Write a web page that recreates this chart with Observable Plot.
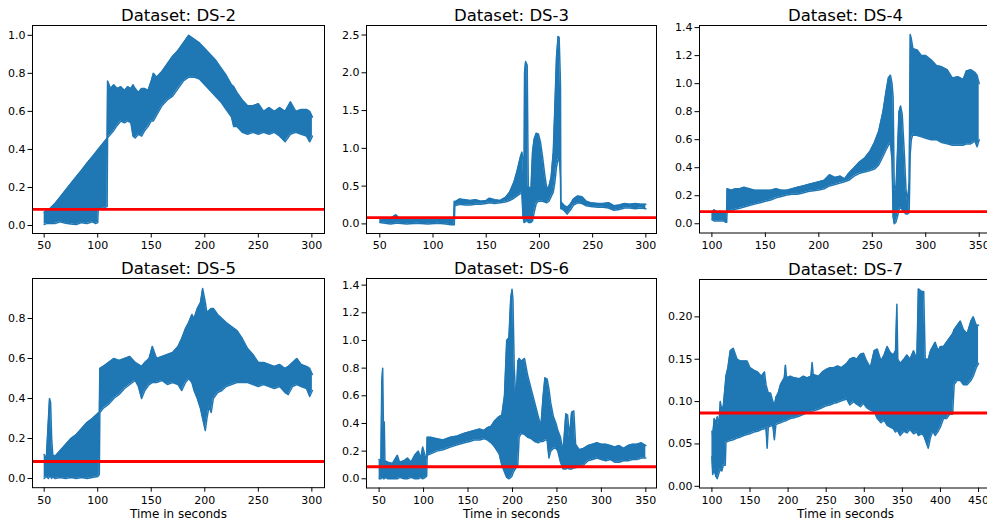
<!DOCTYPE html>
<html>
<head>
<meta charset="utf-8">
<script src="https://cdn.jsdelivr.net/npm/d3@7"></script>
<script src="https://cdn.jsdelivr.net/npm/@observablehq/plot@0.6"></script>
<style>
html, body { margin: 0; padding: 0; background: #fff; overflow: hidden; }
#root { position: relative; width: 987px; height: 525px; overflow: hidden; background: #fff; }
</style>
</head>
<body>
<div id="root"></div>
<script>
// ---------------- data ----------------
// each dataset: time (s), lower and upper envelope of the dense oscillating signal
const ds2_t  = [50,52,55.6,60,65,70,75,80,85,90,95,98,100,100.5,104,108.8,109.2,112,115,118,121.6,125,128,131,133,135,138,141,144,147,150,152,155,160,165,170,175,180,185,190,195,200,205,210,215,220,225,227,230,235,240,245,250,255,260,265,270,275,280,285,290,295,298,300.5];
const ds2_lo = [0.005,0.01,0.01,0.01,0.02,0.012,0.008,0.005,0.015,0.01,0.02,0.01,0.015,0.085,0.09,0.1,0.462,0.48,0.50,0.525,0.549,0.54,0.55,0.54,0.47,0.46,0.48,0.47,0.5,0.52,0.55,0.55,0.58,0.63,0.66,0.68,0.72,0.76,0.78,0.78,0.77,0.74,0.71,0.68,0.65,0.61,0.57,0.52,0.52,0.49,0.48,0.49,0.48,0.49,0.48,0.49,0.47,0.44,0.48,0.49,0.48,0.47,0.44,0.47];
const ds2_hi = [0.07,0.08,0.09,0.115,0.15,0.186,0.221,0.256,0.291,0.327,0.362,0.383,0.397,0.401,0.425,0.459,0.76,0.72,0.74,0.72,0.73,0.71,0.73,0.72,0.74,0.72,0.70,0.72,0.72,0.71,0.76,0.80,0.78,0.81,0.85,0.89,0.92,0.96,1.0,0.98,0.96,0.93,0.90,0.87,0.83,0.79,0.74,0.73,0.70,0.66,0.63,0.63,0.64,0.60,0.62,0.60,0.62,0.60,0.65,0.60,0.61,0.61,0.60,0.57];

const ds3_t  = [50,55,60,65,68,75,85,95,105,112,117,119.5,120,120.5,125,130,135,140,145,150,153,158,163,168,172,176,179,182,183.5,184.5,185.5,186,187,188.5,189.5,192,193.5,195,197,199,201,203,205,207,209,211,213,214.5,216,217.5,218.5,219.5,219.8,220.1,221,223,226,229,232,236,240,244,248,255,260,265,270,275,280,285,290,295,300];
const ds3_lo = [0.02,0.01,0.0,0.01,0.01,0.0,0.01,0.0,0.01,0.0,-0.01,-0.01,-0.01,0.24,0.26,0.25,0.25,0.26,0.26,0.27,0.28,0.27,0.28,0.29,0.31,0.34,0.37,0.40,0.42,0.10,0.02,0.02,0.03,0.05,0.02,0.02,0.04,0.15,0.27,0.3,0.3,0.3,0.29,0.28,0.3,0.36,0.42,0.55,0.75,0.85,0.9,0.7,0.6,0.2,0.2,0.18,0.13,0.18,0.25,0.28,0.27,0.24,0.23,0.22,0.22,0.21,0.18,0.19,0.21,0.21,0.2,0.21,0.2];
const ds3_hi = [0.07,0.08,0.07,0.12,0.08,0.08,0.07,0.08,0.07,0.08,0.07,0.08,0.3,0.29,0.33,0.32,0.31,0.32,0.30,0.31,0.34,0.32,0.31,0.35,0.42,0.55,0.70,0.88,0.95,0.85,0.5,2.0,2.15,2.1,0.5,0.45,0.95,1.12,1.2,1.19,1.08,0.88,0.65,0.46,0.5,0.62,0.95,1.55,2.2,2.48,2.47,2.0,1.8,0.3,0.28,0.25,0.22,0.26,0.33,0.37,0.36,0.30,0.28,0.27,0.27,0.28,0.24,0.25,0.27,0.26,0.27,0.26,0.26];

const ds4_t  = [100,102,105,108,111,113,113.8,114.2,118,122,126,130,135,140,145,150,155,160,165,170,175,180,185,190,195,200,205,210,215,220,224,228,233,238,243,248,252,256,260,263,265,267,268.5,269.5,270.5,272,273.5,275,276.5,278,280,281.5,283,284.5,285.5,286.5,288,292,296,300,305,310,315,320,325,330,335,338,342,346,348,350];
const ds4_lo = [0.03,0.02,0.02,0.02,0.02,0.01,0.01,0.085,0.094,0.103,0.11,0.12,0.13,0.14,0.15,0.16,0.17,0.185,0.195,0.205,0.21,0.21,0.22,0.23,0.235,0.24,0.25,0.27,0.28,0.29,0.30,0.31,0.34,0.36,0.37,0.38,0.39,0.42,0.48,0.53,0.56,0.58,0.45,0.05,0.0,0.01,0.05,0.1,0.12,0.1,0.08,0.07,0.07,0.08,0.5,0.6,0.64,0.63,0.62,0.61,0.6,0.6,0.58,0.57,0.56,0.56,0.56,0.57,0.57,0.59,0.55,0.6];
const ds4_hi = [0.08,0.1,0.08,0.09,0.07,0.08,0.09,0.25,0.24,0.25,0.25,0.26,0.25,0.24,0.24,0.24,0.24,0.25,0.24,0.24,0.25,0.26,0.27,0.28,0.29,0.3,0.31,0.35,0.33,0.34,0.32,0.36,0.40,0.44,0.47,0.52,0.58,0.66,0.80,0.95,1.04,1.06,1.0,0.9,0.28,0.22,0.5,0.8,0.84,0.78,0.5,0.25,0.15,0.3,1.35,1.32,1.25,1.24,1.20,1.2,1.17,1.13,1.12,1.1,1.04,1.05,1.03,1.09,1.1,1.08,1.06,1.0];

const ds5_t  = [50,52,54,55,56,57,58,60,65,70,75,80,85,90,95,100,101.5,102,105,110,115,120,125,130,135,138,141,144,148,151,155,160,165,170,175,178.5,182,185,188,190,193,196,198,200.5,202,204,206,208,212,216,220,225,230,235,240,245,250,255,260,265,270,275,278,282,286,290,295,298,300.5];
const ds5_lo = [0.0,0.01,0.0,0.01,0.01,0.0,0.01,0.0,0.005,0.0,0.005,0.0,0.005,0.0,0.005,0.01,0.02,0.33,0.35,0.37,0.40,0.42,0.45,0.47,0.49,0.46,0.40,0.44,0.47,0.48,0.48,0.49,0.47,0.48,0.47,0.44,0.48,0.5,0.48,0.44,0.40,0.35,0.30,0.24,0.30,0.36,0.33,0.40,0.43,0.44,0.46,0.47,0.48,0.48,0.48,0.47,0.46,0.47,0.46,0.45,0.46,0.43,0.42,0.46,0.47,0.46,0.45,0.41,0.44];
const ds5_hi = [0.12,0.1,0.3,0.40,0.38,0.2,0.12,0.11,0.14,0.17,0.2,0.22,0.25,0.28,0.30,0.325,0.33,0.55,0.56,0.58,0.6,0.59,0.6,0.61,0.58,0.57,0.56,0.58,0.6,0.66,0.6,0.61,0.62,0.63,0.66,0.70,0.75,0.78,0.82,0.8,0.85,0.88,0.95,0.88,0.83,0.84,0.85,0.85,0.82,0.8,0.78,0.76,0.74,0.70,0.65,0.62,0.58,0.58,0.57,0.56,0.57,0.55,0.56,0.58,0.60,0.57,0.56,0.55,0.52];

const ds6_t  = [50,52,53,54,55,55.8,56.5,60,65,70.5,73,78,82,86,90,94,97,99,102,103.5,104,108,115,122,130,138,146,152,157,163,168,172,176,180,185,188,191,193.5,196,198,199.5,200.5,202,204,206,207.5,210,213.5,217,221,225,229,232,234.5,236.5,239,241,243,246,249,251,254,257,260,262,264,266.5,269,271,275,280,285,290,295,300,305,310,315,320,325,330,335,340,345,350];
const ds6_lo = [0.0,0.0,0.01,0.01,0.0,0.0,0.01,0.0,0.0,0.0,0.01,0.0,0.0,0.01,0.0,0.0,0.01,0.0,0.01,0.02,0.17,0.18,0.2,0.21,0.23,0.245,0.26,0.27,0.28,0.28,0.29,0.28,0.26,0.23,0.18,0.1,0.05,0.01,0.0,0.01,0.02,0.04,0.06,0.08,0.1,0.3,0.33,0.32,0.30,0.29,0.27,0.26,0.27,0.27,0.28,0.28,0.15,0.2,0.22,0.22,0.2,0.12,0.07,0.07,0.08,0.07,0.07,0.08,0.08,0.09,0.1,0.13,0.14,0.15,0.14,0.13,0.14,0.12,0.12,0.13,0.13,0.14,0.14,0.15,0.15];
const ds6_hi = [0.14,0.12,0.7,0.8,0.3,0.41,0.13,0.12,0.11,0.17,0.12,0.13,0.15,0.12,0.17,0.2,0.15,0.23,0.16,0.15,0.3,0.3,0.29,0.28,0.3,0.31,0.33,0.34,0.35,0.36,0.35,0.37,0.38,0.42,0.45,0.46,0.6,1.0,1.02,1.3,1.37,1.3,0.8,0.55,0.85,0.87,0.85,0.87,0.75,0.65,0.55,0.45,0.38,0.6,0.73,0.72,0.65,0.55,0.45,0.40,0.35,0.3,0.2,0.47,0.46,0.3,0.48,0.49,0.25,0.21,0.22,0.24,0.25,0.26,0.25,0.25,0.24,0.23,0.24,0.22,0.24,0.25,0.25,0.26,0.24];

const ds7_t  = [100,101,103,105,107,109,111,113,115,117.5,118.4,121,124,128,133,137,142,146,150,155,160,165,169,171,172.5,174,177,180,182,184,187,190,195,196.5,198,203,208,215,220,225,230,231.5,233,240,245,250,255,260,265,270,277,281,286,290,295,299,303,308,313,317,322,326,330,334,338,341,342.8,344,347,352,356,360,364.7,369,371,375,378,380,384,387,390,393,397,400,404,408,412,416,418,422,426,430,435,440,443,447,450];
const ds7_lo = [0.035,0.014,0.02,0.012,0.009,0.015,0.02,0.018,0.025,0.025,0.052,0.053,0.054,0.055,0.057,0.058,0.060,0.061,0.062,0.064,0.065,0.067,0.068,0.069,0.045,0.07,0.071,0.072,0.055,0.073,0.074,0.075,0.077,0.077,0.078,0.08,0.081,0.083,0.085,0.087,0.088,0.089,0.089,0.091,0.093,0.095,0.096,0.098,0.099,0.101,0.103,0.096,0.1,0.097,0.094,0.098,0.093,0.09,0.088,0.08,0.075,0.078,0.072,0.07,0.068,0.064,0.066,0.065,0.06,0.065,0.063,0.067,0.062,0.064,0.06,0.062,0.06,0.055,0.045,0.058,0.065,0.06,0.065,0.07,0.08,0.08,0.085,0.085,0.12,0.125,0.125,0.12,0.12,0.125,0.13,0.14,0.145];
const ds7_hi = [0.065,0.06,0.08,0.075,0.082,0.07,0.1,0.09,0.095,0.12,0.13,0.14,0.16,0.163,0.15,0.148,0.148,0.148,0.14,0.137,0.135,0.13,0.135,0.12,0.115,0.11,0.11,0.10,0.095,0.105,0.11,0.12,0.128,0.143,0.128,0.13,0.128,0.127,0.13,0.128,0.13,0.146,0.132,0.13,0.135,0.138,0.14,0.14,0.142,0.14,0.145,0.15,0.152,0.15,0.156,0.157,0.148,0.14,0.16,0.162,0.148,0.155,0.165,0.158,0.155,0.16,0.215,0.15,0.145,0.15,0.155,0.15,0.16,0.15,0.233,0.23,0.23,0.15,0.15,0.16,0.165,0.17,0.16,0.165,0.165,0.17,0.175,0.18,0.185,0.19,0.195,0.185,0.18,0.195,0.2,0.19,0.19];

// red threshold line per dataset
const thresholds = [0.085, 0.082, 0.086, 0.085, 0.087, 0.0865];

// titles and tick values
const titles = ["Dataset: DS-2", "Dataset: DS-3", "Dataset: DS-4", "Dataset: DS-5", "Dataset: DS-6", "Dataset: DS-7"];
const xTickSets = [
  [50, 100, 150, 200, 250, 300],
  [50, 100, 150, 200, 250, 300],
  [100, 150, 200, 250, 300, 350],
  [50, 100, 150, 200, 250, 300],
  [50, 100, 150, 200, 250, 300, 350],
  [100, 150, 200, 250, 300, 350, 400, 450]
];
const yTickSets = [
  [0, 0.2, 0.4, 0.6, 0.8, 1.0],
  [0, 0.5, 1.0, 1.5, 2.0, 2.5],
  [0, 0.2, 0.4, 0.6, 0.8, 1.0, 1.2, 1.4],
  [0, 0.2, 0.4, 0.6, 0.8],
  [0, 0.2, 0.4, 0.6, 0.8, 1.0, 1.2, 1.4],
  [0, 0.05, 0.10, 0.15, 0.20]
];
const xLabel = "Time in seconds";

// ---------------- layout ----------------
const series = [
  {t: ds2_t, lo: ds2_lo, hi: ds2_hi},
  {t: ds3_t, lo: ds3_lo, hi: ds3_hi},
  {t: ds4_t, lo: ds4_lo, hi: ds4_hi},
  {t: ds5_t, lo: ds5_lo, hi: ds5_hi},
  {t: ds6_t, lo: ds6_lo, hi: ds6_hi},
  {t: ds7_t, lo: ds7_lo, hi: ds7_hi}
];
const layout = [
  {left: 32.2, top: 24.5, w: 292, h: 208, xd: [39.1, 311.8], yd: [-0.042, 1.0516], yf: ".1f", xl: false},
  {left: 365.7, top: 24.5, w: 290, h: 208, xd: [37.5, 310.0], yd: [-0.127, 2.626], yf: ".1f", xl: false},
  {left: 699.3, top: 24.8, w: 292, h: 207.5, xd: [88.4, 361.5], yd: [-0.066, 1.415], yf: ".1f", xl: false},
  {left: 32.2, top: 278.3, w: 292, h: 209.2, xd: [39.1, 311.8], yd: [-0.046, 1.0], yf: ".1f", xl: true},
  {left: 365.7, top: 278.0, w: 290, h: 209.5, xd: [35.8, 362.0], yd: [-0.0666, 1.448], yf: ".1f", xl: true},
  {left: 699.3, top: 279.0, w: 292, h: 208.5, xd: [83.7, 467.0], yd: [-0.002, 0.2441], yf: ".2f", xl: true}
];

const BLUE = "#1f77b4";
const root = document.getElementById("root");
const mL = 45, mR = 10, mT = 30, mB = 40;

layout.forEach((L, i) => {
  const s = series[i];
  const idx = d3.range(s.t.length);
  const marks = [
    Plot.areaY(idx, {x: s.t, y1: s.lo, y2: s.hi, fill: BLUE, curve: "linear"}),
    Plot.line(idx, {x: s.t, y: s.lo, stroke: BLUE, strokeWidth: 1.5}),
    Plot.line(idx, {x: s.t, y: s.hi, stroke: BLUE, strokeWidth: 1.5}),
    Plot.ruleY([thresholds[i]], {stroke: "#ff0000", strokeWidth: 2.8}),
    Plot.frame({stroke: "black", strokeWidth: 1}),
    Plot.axisX(xTickSets[i], {tickSize: 4.5, tickPadding: 3.5, fontSize: 11, label: null, tickFormat: d => String(d)}),
    Plot.axisY(yTickSets[i], {tickSize: 4.5, tickPadding: 2.5, fontSize: 11, label: null, tickFormat: d3.format(L.yf)}),
    Plot.text([titles[i]], {frameAnchor: "top", dy: -9.3, fontSize: 16.5, lineAnchor: "middle"})
  ];
  if (L.xl) marks.push(Plot.text([xLabel], {frameAnchor: "bottom", dy: 26.3, fontSize: 12, lineAnchor: "middle"}));
  const svg = Plot.plot({
    width: L.w + mL + mR,
    height: L.h + mT + mB,
    marginLeft: mL, marginRight: mR, marginTop: mT, marginBottom: mB,
    style: {fontFamily: "'DejaVu Sans', sans-serif", fontSize: "11px", color: "black", background: "transparent", overflow: "visible"},
    x: {domain: L.xd},
    y: {domain: L.yd},
    marks
  });
  svg.style.position = "absolute";
  svg.style.left = (L.left - mL) + "px";
  svg.style.top = (L.top - mT) + "px";
  svg.style.maxWidth = "none";
  root.appendChild(svg);
});
</script>
</body>
</html>
